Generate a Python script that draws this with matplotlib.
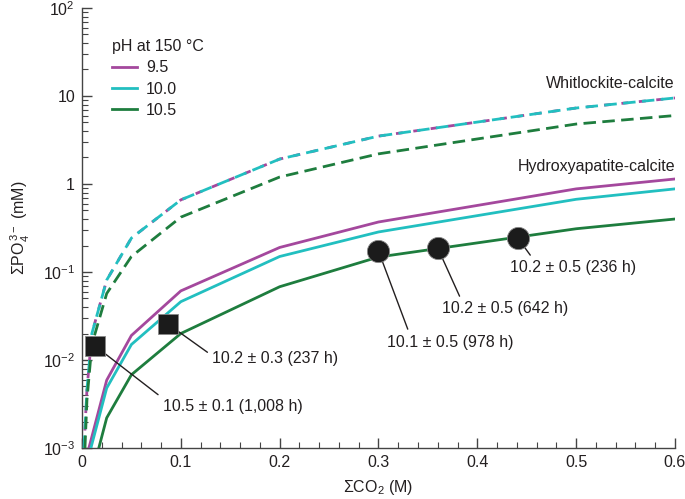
import matplotlib
matplotlib.use("Agg")
import matplotlib.pyplot as plt
from matplotlib.ticker import FixedLocator, LogLocator, NullFormatter, MultipleLocator

plt.rcParams['font.family'] = ['Liberation Sans', 'DejaVu Sans']
plt.rcParams['mathtext.fontset'] = 'custom'
plt.rcParams['mathtext.rm'] = 'Liberation Sans'
plt.rcParams['mathtext.it'] = 'Liberation Sans:italic'
plt.rcParams['mathtext.bf'] = 'Liberation Sans:bold'

# Model curves (sum CO2 in M, sum PO4 in mM)
# Whitlockite-calcite (dashed)
whit_x_low = [0.002, 0.005, 0.01, 0.025, 0.05, 0.1, 0.2, 0.3, 0.5, 0.6]
whit_95 = [0.001, 0.0046, 0.020, 0.081, 0.243, 0.66, 1.92, 3.5, 7.3, 9.5]
whit_100 = [0.001, 0.0046, 0.020, 0.081, 0.243, 0.66, 1.92, 3.5, 7.3, 9.5]
whit_x_105 = [0.003, 0.005, 0.01, 0.025, 0.05, 0.1, 0.2, 0.3, 0.5, 0.6]
whit_105 = [0.001, 0.0035, 0.015, 0.057, 0.15, 0.42, 1.2, 2.2, 4.8, 6.0]

# Hydroxyapatite-calcite (solid)
hap_x_95 = [0.007, 0.025, 0.05, 0.1, 0.2, 0.3, 0.5, 0.6]
hap_95 = [0.001, 0.0059, 0.019, 0.061, 0.19, 0.37, 0.88, 1.14]
hap_x_100 = [0.009, 0.025, 0.05, 0.1, 0.2, 0.3, 0.5, 0.6]
hap_100 = [0.001, 0.0048, 0.015, 0.046, 0.15, 0.285, 0.67, 0.88]
hap_x_105 = [0.017, 0.025, 0.05, 0.1, 0.2, 0.3, 0.5, 0.6]
hap_105 = [0.001, 0.0022, 0.0068, 0.020, 0.068, 0.148, 0.31, 0.40]

# Experiments
sq_x = [0.013, 0.087]
sq_y = [0.0145, 0.0256]
sq_labels = ["10.5 ± 0.1 (1,008 h)", "10.2 ± 0.3 (237 h)"]
circ_x = [0.300, 0.360, 0.441]
circ_y = [0.173, 0.187, 0.243]
circ_labels = ["10.1 ± 0.5 (978 h)", "10.2 ± 0.5 (642 h)", "10.2 ± 0.5 (236 h)"]

x_ticks = [0, 0.1, 0.2, 0.3, 0.4, 0.5, 0.6]
x_ticklabels = ["0", "0.1", "0.2", "0.3", "0.4", "0.5", "0.6"]
y_ticks = [1e-3, 1e-2, 1e-1, 1, 10, 100]
y_ticklabels = [r"$\mathregular{10^{-3}}$", r"$\mathregular{10^{-2}}$", r"$\mathregular{10^{-1}}$",
                "1", "10", r"$\mathregular{10^{2}}$"]

col_95 = "#a4489d"
col_100 = "#22bfc0"
col_105 = "#1e7d3e"
txt_col = "#231f20"
fs = 11.5

fig = plt.figure(figsize=(6.85, 4.99), dpi=100)
ax = fig.add_axes([0.1197, 0.1022, 0.8657, 0.8818])

lw = 2.0
# dashed whitlockite lines, magenta peeking out under cyan
ax.plot(whit_x_low, whit_95, color=col_95, lw=lw, dashes=(2.5, 3.8), zorder=2)
ax.plot(whit_x_low, whit_100, color=col_100, lw=lw, dashes=(4.5, 2.3), zorder=3)
ax.plot(whit_x_105, whit_105, color=col_105, lw=lw, dashes=(4.5, 2.3), zorder=3)

l95, = ax.plot(hap_x_95, hap_95, color=col_95, lw=lw, zorder=3, label="9.5")
l100, = ax.plot(hap_x_100, hap_100, color=col_100, lw=lw, zorder=3, label="10.0")
l105, = ax.plot(hap_x_105, hap_105, color=col_105, lw=lw, zorder=3, label="10.5")

ax.plot(sq_x, sq_y, "s", ms=14, color="#1b1b1b", mec="#888888", mew=0.6, zorder=6)
ax.plot(circ_x, circ_y, "o", ms=16, color="#1b1b1b", mec="#888888", mew=0.6, zorder=6)

# leader lines and labels
text_pos = [(0.082, 0.0030), (0.132, 0.0103)]
relpos = [(0.0, 1.0), (0.0, 0.7)]
for i in range(len(sq_x)):
    ax.annotate(sq_labels[i], xy=(sq_x[i], sq_y[i]), xytext=text_pos[i],
                ha="left", va="center", fontsize=fs, color=txt_col,
                arrowprops=dict(arrowstyle="-", color=txt_col, lw=1.0, relpos=relpos[i],
                                shrinkA=2, shrinkB=0), zorder=4)

text_pos = [(0.3086, 0.0160), (0.364, 0.038), (0.433, 0.112)]
relpos = [(0.18, 1.0), (0.16, 1.0), (0.19, 1.0)]
for i in range(len(circ_x)):
    ax.annotate(circ_labels[i], xy=(circ_x[i], circ_y[i]), xytext=text_pos[i],
                ha="left", va="center", fontsize=fs, color=txt_col,
                arrowprops=dict(arrowstyle="-", color=txt_col, lw=1.0, relpos=relpos[i],
                                shrinkA=2, shrinkB=0), zorder=4)

ax.text(0.6, 13.7, "Whitlockite-calcite", ha="right", va="center", fontsize=fs, color=txt_col)
ax.text(0.6, 1.6, "Hydroxyapatite-calcite", ha="right", va="center", fontsize=fs, color=txt_col)

ax.set_yscale("log")
ax.set_xlim(0, 0.6)
ax.set_ylim(1e-3, 1e2)

ax.xaxis.set_major_locator(FixedLocator(x_ticks))
ax.xaxis.set_minor_locator(MultipleLocator(0.02))
ax.set_xticklabels(x_ticklabels)
ax.yaxis.set_major_locator(FixedLocator(y_ticks))
ax.yaxis.set_minor_locator(LogLocator(base=10, subs=range(2, 10)))
ax.yaxis.set_minor_formatter(NullFormatter())
ax.set_yticklabels(y_ticklabels)

for s in ["top", "right"]:
    ax.spines[s].set_visible(False)
for s in ["left", "bottom"]:
    ax.spines[s].set_color("#444444")
    ax.spines[s].set_linewidth(1.0)
ax.tick_params(which="major", direction="in", length=7, width=1.0, color="#444444",
               labelsize=fs, labelcolor=txt_col, pad=5)
ax.tick_params(which="minor", direction="in", length=4, width=0.8, color="#444444")

ax.set_xlabel(r"ΣCO$\mathregular{_2}$ (M)", fontsize=fs, color=txt_col, labelpad=6)
ax.set_ylabel(r"ΣPO$\mathregular{_4^{\,3-}}$ (mM)", fontsize=fs, color=txt_col, labelpad=8)

leg = ax.legend(handles=[l95, l100, l105], title="pH at 150 °C", loc="upper left",
                bbox_to_anchor=(0.05, 0.93), frameon=False, fontsize=fs,
                title_fontsize=fs, handlelength=1.6, handletextpad=0.55,
                labelspacing=0.4, borderpad=0, borderaxespad=0, alignment="left")
for t in leg.get_texts():
    t.set_color(txt_col)
leg.get_title().set_color(txt_col)

fig.savefig("out.png", dpi=100)
